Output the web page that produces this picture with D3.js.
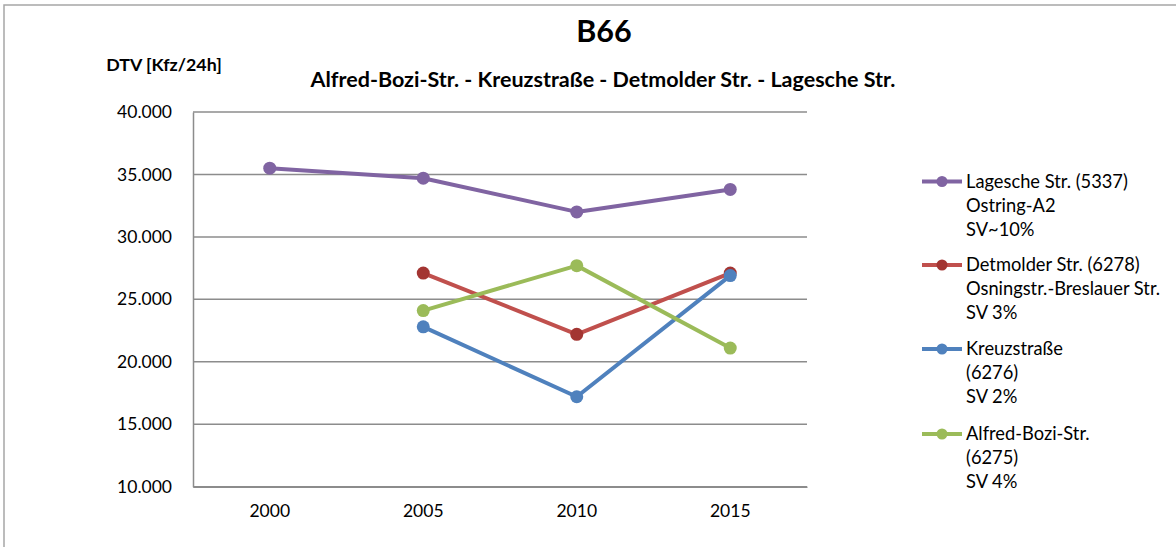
<!DOCTYPE html>
<html><head><meta charset="utf-8">
<script src="https://cdn.jsdelivr.net/npm/d3@7"></script>
<style>
body{margin:0;background:#fff;}
svg{display:block;font-family:Lato,"Open Sans",sans-serif;}
</style></head>
<body><svg id="c" width="1176" height="547"></svg>
<script>
const years = ["2000","2005","2010","2015"];
const yTicks = [10000,15000,20000,25000,30000,35000,40000];
const seriesNames = [
  ["Lagesche Str. (5337)","Ostring-A2","SV~10%"],
  ["Detmolder Str. (6278)","Osningstr.-Breslauer Str.","SV 3%"],
  ["Kreuzstraße","(6276)","SV 2%"],
  ["Alfred-Bozi-Str.","(6275)","SV 4%"]
];
const lagesche  = [35500, 34700, 32000, 33800];
const detmolder = [null, 27100, 22200, 27100];
const kreuz     = [null, 22800, 17200, 26900];
const alfred    = [null, 24100, 27700, 21100];
const lineColors   = ["#8064A2","#C0504D","#4F81BD","#9BBB59"];
const markerColors = ["#8064A2","#A33532","#4F81BD","#9BBB59"];
const allValues = [lagesche, detmolder, kreuz, alfred];

const svg = d3.select("#c");
svg.append("rect").attr("x",4).attr("y",5).attr("width",1200).attr("height",600)
  .attr("fill","#fff").attr("stroke","#a6a6a6").attr("stroke-width",1.5);

const x = d3.scaleBand().domain(years).range([193,807]);
const y = d3.scaleLinear().domain([10000,40000]).range([486.7,112]);
const fmt = v => d3.format(",.0f")(v).replace(/,/g,".") ;

// gridlines
svg.append("g").selectAll("line").data(yTicks).join("line")
  .attr("x1",193).attr("x2",807).attr("y1",d=>y(d)).attr("y2",d=>y(d))
  .attr("stroke","#8c8c8c").attr("stroke-width",1.5);

// y axis
const ya = svg.append("g").attr("transform","translate(193,0)")
  .call(d3.axisLeft(y).tickValues(yTicks).tickFormat(fmt).tickSize(0).tickPadding(21));
ya.select(".domain").attr("stroke","#8c8c8c").attr("stroke-width",1.5);
ya.selectAll("text").attr("font-size",17.5).attr("fill","#000").attr("font-family","Lato");

// x axis
const xa = svg.append("g").attr("transform","translate(0,486.7)")
  .call(d3.axisBottom(x).tickSize(0).tickPadding(18));
xa.select(".domain").attr("stroke","#8c8c8c").attr("stroke-width",1.5);
xa.selectAll("text").attr("font-size",17.5).attr("fill","#000").attr("font-family","Lato");

const line = d3.line().defined(d=>d!=null)
  .x((d,i)=>x(years[i])+x.bandwidth()/2).y(d=>y(d));

allValues.forEach((vals,si)=>{
  svg.append("path").datum(vals).attr("d",line).attr("fill","none")
    .attr("stroke",lineColors[si]).attr("stroke-width",4).attr("stroke-linejoin","round");
  svg.append("g").selectAll("circle").data(vals.map((v,i)=>({v,i})).filter(d=>d.v!=null))
    .join("circle").attr("cx",d=>x(years[d.i])+x.bandwidth()/2).attr("cy",d=>y(d.v))
    .attr("r",6.5).attr("fill",markerColors[si]);
});

// titles
svg.append("text").attr("x",604).attr("y",42).attr("text-anchor","middle")
  .attr("font-size",30.5).attr("font-weight","bold").text("B66");
svg.append("text").attr("x",164).attr("y",71).attr("text-anchor","middle")
  .attr("font-size",17.8).attr("font-weight","bold").text("DTV [Kfz/24h]");
svg.append("text").attr("x",603).attr("y",87).attr("text-anchor","middle")
  .attr("font-size",21.5).attr("font-weight","bold")
  .text("Alfred-Bozi-Str. - Kreuzstraße - Detmolder Str. - Lagesche Str.");

// legend
const legendY = [181.5, 265, 349, 434];
seriesNames.forEach((lines,si)=>{
  const g = svg.append("g").attr("transform",`translate(0,${legendY[si]})`);
  g.append("line").attr("x1",922).attr("x2",962).attr("y1",0).attr("y2",0)
    .attr("stroke",lineColors[si]).attr("stroke-width",4);
  g.append("circle").attr("cx",942).attr("cy",0).attr("r",5.5).attr("fill",markerColors[si]);
  lines.forEach((t,li)=>{
    g.append("text").attr("x",966).attr("y",li*24).attr("dy","0.35em")
      .attr("font-size",18.3).attr("fill","#000").text(t);
  });
});
</script></body></html>
